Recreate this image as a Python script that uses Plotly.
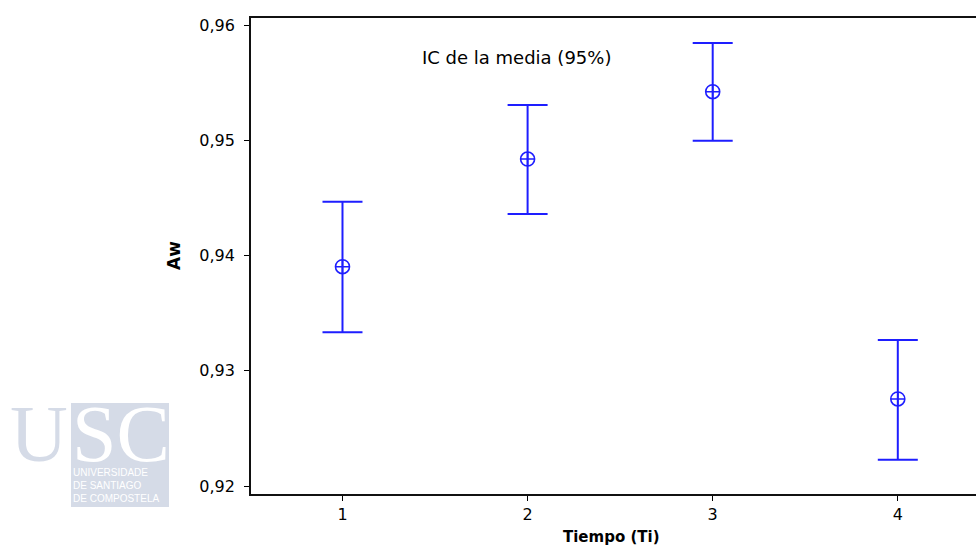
import plotly.graph_objects as go

# Interval plot of water activity (Aw) by time, 95% CI of the mean
tiempo = [1, 2, 3, 4]
aw_media = [0.93903, 0.94837, 0.95421, 0.92755]
aw_ic_inf = [0.93334, 0.94360, 0.94996, 0.92228]
aw_ic_sup = [0.94467, 0.95306, 0.95844, 0.93267]

y_ticks = [0.92, 0.93, 0.94, 0.95, 0.96]
x_ticks = [1, 2, 3, 4]

BLUE = "#1E1EFF"
LOGO = "#D5DBE7"

# Plot-area geometry in pixels (used to place logo and labels in paper units)
W, H = 976, 552
L, R, T, B = 251, 0, 18, 58
PW, PH = W - L - R, H - T - B


def px(x):
    return (x - L) / PW


def py(y):
    return (H - B - y) / PH


err_up = [u - m for u, m in zip(aw_ic_sup, aw_media)]
err_dn = [m - d for m, d in zip(aw_media, aw_ic_inf)]

fig = go.Figure()
fig.add_trace(go.Scatter(
    x=tiempo, y=aw_media, mode="markers",
    marker=dict(symbol="circle-cross-open", size=14, color=BLUE,
                line=dict(color=BLUE, width=1.6)),
    error_y=dict(type="data", symmetric=False, array=err_up, arrayminus=err_dn,
                 color=BLUE, thickness=2, width=20),
    showlegend=False,
))

fig.update_layout(
    width=W, height=H,
    margin=dict(l=L, r=R, t=T, b=B, pad=0),
    paper_bgcolor="white", plot_bgcolor="white",
    separators=",.",
    font=dict(family="DejaVu Sans", size=16, color="black"),
    xaxis=dict(range=[0.5057, 4.4225], tickvals=x_ticks, ticks="outside",
               ticklen=5, tickwidth=1.3, tickcolor="black",
               showline=True, linecolor="#111", linewidth=1.8, mirror=True,
               showgrid=False, zeroline=False, ticklabelstandoff=0,
               tickfont=dict(size=16)),
    yaxis=dict(range=[0.919306, 0.960607], tickvals=y_ticks, tickformat=".2f",
               ticks="outside", ticklen=5, tickwidth=1.3, tickcolor="black",
               showline=True, linecolor="#111", linewidth=1.8, mirror=False,
               showgrid=False, zeroline=False, ticklabelstandoff=6,
               tickfont=dict(size=16)),
)

annotations = [
    dict(text="IC de la media (95%)", x=px(516), y=py(57), xref="paper", yref="paper",
         xanchor="center", yanchor="middle", showarrow=False,
         font=dict(family="DejaVu Sans", size=18, color="black")),
    dict(text="<b>Tiempo (Ti)</b>", x=px(611), y=py(537), xref="paper", yref="paper",
         xanchor="center", yanchor="middle", showarrow=False,
         font=dict(family="DejaVu Sans", size=15, color="black")),
    dict(text="<b>Aw</b>", x=px(174), y=py(256), xref="paper", yref="paper",
         xanchor="center", yanchor="middle", textangle=-90, showarrow=False,
         font=dict(family="DejaVu Sans", size=17, color="black")),
    # University logo
    dict(text="U", x=px(70), y=py(434), xref="paper", yref="paper",
         xanchor="right", yanchor="middle", showarrow=False,
         font=dict(family="Liberation Serif", size=80, color=LOGO)),
    dict(text="SC", x=px(70), y=py(434), xref="paper", yref="paper",
         xanchor="left", yanchor="middle", showarrow=False,
         font=dict(family="Liberation Serif", size=80, color="white")),
    dict(text="UNIVERSIDADE<br>DE SANTIAGO<br>DE COMPOSTELA", x=px(71), y=py(485),
         xref="paper", yref="paper", xanchor="left", yanchor="middle",
         align="left", showarrow=False,
         font=dict(family="Liberation Sans", size=10, color="white")),
]
fig.update_layout(annotations=annotations)

fig.add_shape(type="rect", xref="paper", yref="paper",
              x0=px(71), x1=px(169), y0=py(507), y1=py(403),
              fillcolor=LOGO, line=dict(width=0), layer="below")

fig.write_html("out.html")
